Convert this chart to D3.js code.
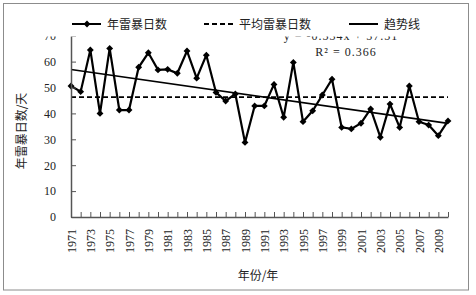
<html>
<head>
<style>
  body{margin:0;background:#fff}
  svg text{font-family:"Liberation Serif","DejaVu Serif",serif;fill:#222}
  .cjk{font-family:"Noto Sans CJK SC",sans-serif}
</style>
</head>
<body>
<div id="chart"></div>
<script src="https://d3js.org/d3.v7.min.js"></script>
<script>
(function () {

  // data
  var years = d3.range(1971, 2011);
  var days = [50.6, 48.4, 64.5, 40.0, 65.1, 41.3, 41.3, 57.8, 63.4, 56.8,
              57.0, 55.5, 64.1, 53.6, 62.5, 48.1, 44.8, 47.5, 28.8, 42.9,
              42.9, 51.2, 38.5, 59.7, 36.8, 41.0, 47.1, 53.2, 34.6, 34.0,
              36.2, 41.7, 30.8, 43.6, 34.6, 50.6, 36.8, 35.5, 31.4, 37.1];
  var yTicks = [0, 10, 20, 30, 40, 50, 60, 70];
  var trendSlope = -0.534, trendIntercept = 57.51;
  var legendNames = ['年雷暴日数', '平均雷暴日数', '趋势线'];

  var width = 476, height = 295;
  var meanDays = d3.mean(days);

  var svg = d3.select('#chart').append('svg')
    .attr('width', width)
    .attr('height', height);

  svg.append('rect')
    .attr('x', 3.5).attr('y', 3.5)
    .attr('width', 465).attr('height', 286.5)
    .attr('fill', '#fff')
    .attr('stroke', '#8c8c8c');

  var x = d3.scalePoint().domain(years).range([71, 448]);
  var y = d3.scaleLinear().domain([0, 70]).range([217, 35.7]);

  var plot = svg.append('g');

  // equation text (partly hidden under legend)
  plot.append('text')
    .attr('x', 341).attr('y', 40)
    .attr('text-anchor', 'middle')
    .style('font-size', '12px')
    .style('letter-spacing', '1px')
    .text('y = ' + trendSlope.toFixed(3) + 'x + ' + trendIntercept.toFixed(2));
  plot.append('text')
    .attr('x', 346).attr('y', 56)
    .attr('text-anchor', 'middle')
    .style('font-size', '12px')
    .style('letter-spacing', '1px')
    .text('R² = 0.366');

  // mean line
  plot.append('line')
    .attr('x1', x(1971)).attr('x2', x(2010))
    .attr('y1', y(meanDays)).attr('y2', y(meanDays))
    .attr('stroke', '#000').attr('stroke-width', 1.6)
    .attr('stroke-dasharray', '5,3');

  // trend line
  plot.append('line')
    .attr('x1', x(1971)).attr('x2', x(2010))
    .attr('y1', y(trendIntercept + trendSlope * 1))
    .attr('y2', y(trendIntercept + trendSlope * years.length))
    .attr('stroke', '#000').attr('stroke-width', 1.6);

  // data line
  var line = d3.line()
    .x(function (d, i) { return x(years[i]); })
    .y(function (d) { return y(d); });

  plot.append('path')
    .attr('d', line(days))
    .attr('fill', 'none')
    .attr('stroke', '#000')
    .attr('stroke-width', 2.2);

  var diamond = d3.symbol().type(d3.symbolDiamond2).size(30);
  plot.selectAll('.pt').data(days).enter().append('path')
    .attr('class', 'pt')
    .attr('d', diamond)
    .attr('transform', function (d, i) { return 'translate(' + x(years[i]) + ',' + y(d) + ')'; })
    .attr('fill', '#000');

  // axes, ticks inside
  var yAxis = d3.axisLeft(y).tickValues(yTicks).tickSizeInner(-5).tickSizeOuter(0).tickPadding(15);
  var gy = svg.append('g').attr('transform', 'translate(71,0)').call(yAxis);
  gy.selectAll('text').style('font-size', '12px').attr('fill', '#222');

  var xAxis = d3.axisBottom(x)
    .tickSizeInner(-5).tickSizeOuter(0)
    .tickFormat(function (d) { return (d - 1971) % 2 === 0 ? d : ''; });
  var gx = svg.append('g').attr('transform', 'translate(0,217)').call(xAxis);
  gx.selectAll('text')
    .style('font-size', '12px')
    .attr('fill', '#222')
    .attr('text-anchor', 'end')
    .attr('transform', 'rotate(-90)')
    .attr('x', -12).attr('y', 0).attr('dy', '0.35em');

  svg.selectAll('.domain').attr('stroke', '#555').attr('stroke-width', 1.5);
  svg.selectAll('.tick line').attr('stroke', '#555');

  // axis titles
  svg.append('text')
    .attr('class', 'cjk')
    .attr('transform', 'translate(26,131) rotate(-90)')
    .attr('text-anchor', 'middle')
    .style('font-size', '12px')
    .text('年雷暴日数/天');

  svg.append('text')
    .attr('class', 'cjk')
    .attr('x', 258).attr('y', 280)
    .attr('text-anchor', 'middle')
    .style('font-size', '12px')
    .text('年份/年');

  // legend, its white box hides the top of the "70" label and the equation
  var lg = svg.append('g');
  lg.append('rect')
    .attr('x', 40).attr('y', 10).attr('width', 400).attr('height', 26.5)
    .attr('fill', '#fff');

  var legendX = [72, 204, 349];
  var legendDash = [null, '5,3', null];
  legendNames.forEach(function (name, i) {
    lg.append('line')
      .attr('x1', legendX[i]).attr('x2', legendX[i] + 29)
      .attr('y1', 24).attr('y2', 24)
      .attr('stroke', '#000').attr('stroke-width', 2)
      .attr('stroke-dasharray', legendDash[i]);
    if (i === 0) {
      lg.append('path').attr('d', diamond)
        .attr('transform', 'translate(' + (legendX[i] + 15) + ',24)');
    }
    lg.append('text')
      .attr('class', 'cjk')
      .attr('x', legendX[i] + 35).attr('y', 28.5)
      .style('font-size', '12px')
      .text(name);
  });

})();
</script>
</body>
</html>
